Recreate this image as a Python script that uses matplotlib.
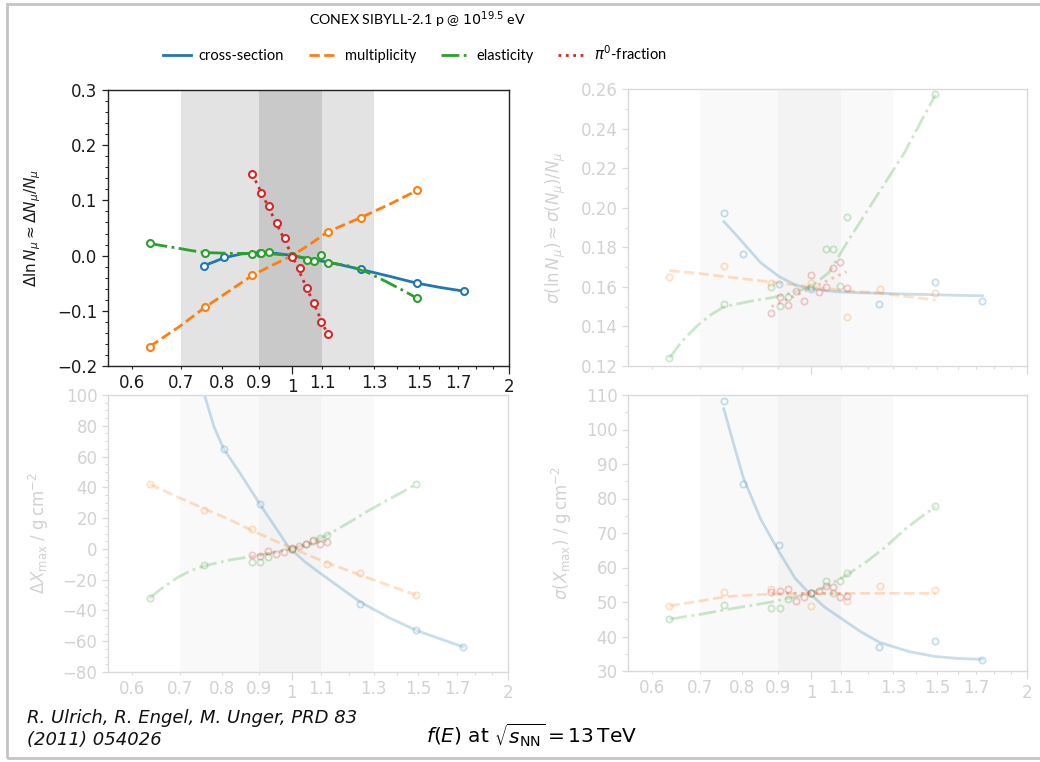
import numpy as np
import matplotlib
matplotlib.use("Agg")
import matplotlib.pyplot as plt
from matplotlib.lines import Line2D
from matplotlib.patches import Rectangle
from matplotlib.ticker import MultipleLocator

# ---------------- data ----------------
# f(E) values of the simulated points, per modified quantity
x_cs = [0.755, 0.804, 0.902, 1.0, 1.245, 1.49, 1.733]
x_mult = [0.634, 0.756, 0.88, 1.0, 1.12, 1.246, 1.49]
x_el = [0.634, 0.756, 0.88, 0.904, 0.928, 1.0, 1.048, 1.072, 1.096, 1.12, 1.49]
x_pi0 = [0.88, 0.904, 0.928, 0.952, 0.976, 1.0, 1.024, 1.048, 1.072, 1.096, 1.12]

# x positions of the fitted curves
fit_x_cs = [0.755, 0.78, 0.804, 0.85, 0.902, 0.95, 0.99, 1.044, 1.1, 1.17, 1.245, 1.37, 1.49, 1.61, 1.733]
fit_x_mult = [0.634, 0.7, 0.756, 0.82, 0.88, 0.94, 1.0, 1.06, 1.12, 1.246, 1.37, 1.49]
fit_x_el = [0.634, 0.66, 0.694, 0.725, 0.756, 0.824, 0.88, 0.94, 1.0, 1.06, 1.12, 1.2, 1.27, 1.35, 1.42, 1.49]
fit_x_pi0 = [0.88, 1.0, 1.12]

# panel: Delta ln N_mu
nmu_cs = [-0.018, -0.003, 0.004, 0.0, -0.0247, -0.050, -0.0645]
nmu_mult = [-0.165, -0.094, -0.035, 0.0, 0.0435, 0.0677, 0.1185]
nmu_el = [0.0224, 0.0043, 0.003, 0.0055, 0.0067, 0.0, -0.0078, -0.0096, 0.0007, -0.0138, -0.077]
nmu_pi0 = [0.1474, 0.114, 0.090, 0.0587, 0.031, -0.003, -0.0223, -0.058, -0.086, -0.1207, -0.142]
nmu_cs_fit = [-0.018, -0.011, -0.004, 0.003, 0.005, 0.004, 0.001, -0.005, -0.010, -0.017, -0.025, -0.038, -0.050, -0.058, -0.0645]
nmu_mult_fit = [-0.165, -0.127, -0.094, -0.063, -0.036, -0.017, 0.0, 0.021, 0.043, 0.069, 0.094, 0.118]
nmu_el_fit = [0.022, 0.018, 0.0135, 0.009, 0.0055, 0.004, 0.004, 0.003, 0.0, -0.006, -0.012, -0.019, -0.030, -0.047, -0.062, -0.077]
nmu_pi0_fit = [0.148, 0.0, -0.143]

# panel: sigma(ln N_mu)
snmu_cs = [0.1973, 0.1767, 0.1614, 0.159, 0.1511, 0.1626, 0.1528]
snmu_mult = [0.1652, 0.1703, 0.1622, 0.1618, 0.1446, 0.1588, 0.1568]
snmu_el = [0.1242, 0.1514, 0.1598, 0.1504, 0.155, 0.160, 0.1792, 0.1792, 0.1605, 0.1951, 0.2576]
snmu_pi0 = [0.147, 0.1548, 0.151, 0.158, 0.1529, 0.1662, 0.1576, 0.160, 0.1694, 0.1725, 0.1595]
snmu_cs_fit = [0.193, 0.1875, 0.1821, 0.1722, 0.1652, 0.161, 0.1592, 0.1581, 0.1574, 0.157, 0.1568, 0.1563, 0.156, 0.1557, 0.1555]
snmu_mult_fit = [0.1682, 0.1667, 0.1652, 0.1637, 0.1624, 0.1611, 0.160, 0.159, 0.158, 0.1568, 0.155, 0.1534]
snmu_el_fit = [0.124, 0.1325, 0.1405, 0.146, 0.150, 0.1528, 0.1545, 0.157, 0.160, 0.1675, 0.182, 0.199, 0.213, 0.228, 0.243, 0.257]
snmu_pi0_fit = [0.150, 0.1593, 0.1677]

# panel: Delta X_max [g/cm2]
dx_cs = [118.0, 65.1, 29.4, 0.0, -35.5, -52.9, -63.7]
dx_mult = [41.9, 25.2, 12.8, 0.0, -9.5, -15.6, -29.7]
dx_el = [-31.9, -10.6, -8.4, -8.7, -5.0, 0.0, 3.0, 5.0, 7.2, 9.3, 41.9]
dx_pi0 = [-4.1, -4.5, -1.3, -3.4, -1.9, 0.7, 2.0, 3.1, 5.7, 3.5, 4.6]
dx_cs_fit = [101, 79, 65.1, 48.2, 29.4, 13.7, 1.2, -8.5, -16.4, -25.4, -34.5, -45, -52.9, -58.5, -63.7]
dx_mult_fit = [42, 33, 26, 19, 12, 6, 0.5, -4.5, -9, -17, -24, -30]
dx_el_fit = [-32, -25.5, -18.5, -14, -11, -7, -5, -2.5, 0, 4, 9, 17, 24, 31, 36.5, 42]
dx_pi0_fit = [-5, 0, 5.5]

# panel: sigma(X_max) [g/cm2]
sx_cs = [108.2, 84.1, 66.6, 52.5, 37.0, 38.8, 33.1]
sx_mult = [48.8, 52.8, 53.7, 48.9, 50.4, 54.7, 53.4]
sx_el = [45.0, 49.1, 48.4, 48.4, 50.8, 52.5, 56.1, 52.7, 56.1, 58.5, 77.9]
sx_pi0 = [52.8, 53.3, 53.8, 50.2, 51.4, 52.5, 53.3, 54.6, 54.3, 51.4, 51.7]
sx_cs_fit = [106, 95.5, 86, 74, 64.5, 56.8, 52.9, 48.5, 45.3, 41.5, 38.3, 35.6, 34.2, 33.6, 33.4]
sx_mult_fit = [48.9, 50.3, 51.5, 52, 52.3, 52.4, 52.5, 52.5, 52.5, 52.5, 52.5, 52.5]
sx_el_fit = [45, 45.6, 46.3, 47, 47.7, 49, 50, 51.3, 52.5, 55, 57.8, 62, 66, 71, 74.5, 77.6]
sx_pi0_fit = [52.6, 52.5, 52.4]

band_wide = (0.7, 1.3)
band_narrow = (0.9, 1.1)

major_ticks = [1, 2]
major_labels = ["1", "2"]
minor_ticks = [0.6, 0.7, 0.8, 0.9, 1.1, 1.2, 1.3, 1.4, 1.5, 1.6, 1.7, 1.8, 1.9]
minor_labels = ["0.6", "0.7", "0.8", "0.9", "1.1", "", "1.3", "", "1.5", "", "1.7", "", ""]

series_names = ["cross-section", "multiplicity", "elasticity", r"$\pi^0$-fraction"]
series_colors = ["#1f77b4", "#ff7f0e", "#2ca02c", "#d62728"]
series_styles = ["-", "--", "-.", ":"]

# ---------------- figure ----------------
W, H = 1040, 762
fig = plt.figure(figsize=(W / 100, H / 100), dpi=100)
fig.patch.set_facecolor("white")


def rect(l, t, r, b):
    return [l / W, 1 - b / H, (r - l) / W, (b - t) / H]


ax_tl = fig.add_axes(rect(108, 90, 509, 366), zorder=5)
ax_tr = fig.add_axes(rect(628, 89, 1027, 366))
ax_bl = fig.add_axes(rect(108, 395, 508, 672))
ax_br = fig.add_axes(rect(628, 395, 1027, 671))

FADE = 0.24
FADE_TXT = "#d2d2d2"
FADE_SPINE = "#dadada"


def draw_panel(ax, marks, fits, ylim, ymaj, ymin, ylabel, label_x, faded, show_xlabels):
    a = FADE if faded else 1.0
    ms = 4.5 if faded else 5
    mew = 1.3 if faded else 1.5
    ax.set_xscale("log")
    ax.set_xlim(0.555, 2.0)
    ax.set_ylim(*ylim)
    if faded:
        ax.axvspan(*band_wide, color="#f9f9f9", lw=0, zorder=0)
        ax.axvspan(*band_narrow, color="#f3f3f3", lw=0, zorder=0)
    else:
        ax.axvspan(*band_wide, color="#e3e3e3", lw=0, zorder=0)
        ax.axvspan(*band_narrow, color="#c9c9c9", lw=0, zorder=0)
    xs = [x_cs, x_mult, x_el, x_pi0]
    fxs = [fit_x_cs, fit_x_mult, fit_x_el, fit_x_pi0]
    for i in range(4):
        ax.plot(fxs[i], fits[i], color=series_colors[i], ls=series_styles[i],
                lw=2.0, alpha=a, zorder=2 + i, clip_on=True)
        ax.plot(xs[i], marks[i], ls="none", marker="o", ms=ms, mew=mew,
                mfc="white", mec=series_colors[i], alpha=a, zorder=2.5 + i)
    ax.set_xticks(major_ticks, labels=major_labels if show_xlabels else ["", ""])
    ax.set_xticks(minor_ticks, labels=minor_labels if show_xlabels else [""] * len(minor_ticks), minor=True)
    ax.yaxis.set_major_locator(MultipleLocator(ymaj))
    ax.yaxis.set_minor_locator(MultipleLocator(ymin))
    tcol = FADE_TXT if faded else "#1a1a1a"
    scol = FADE_SPINE if faded else "#222222"
    ax.tick_params(axis="both", which="both", labelsize=12, colors=scol, labelcolor=tcol)
    ax.tick_params(axis="x", which="major", length=5.5, width=0.9)
    ax.tick_params(axis="x", which="minor", length=2.5, width=0.8)
    ax.tick_params(axis="y", which="major", length=4, width=0.9)
    ax.tick_params(axis="y", which="minor", length=2.2, width=0.7)
    for s in ax.spines.values():
        s.set_color(scol)
        s.set_linewidth(1.0)
    ax.set_ylabel(ylabel, fontsize=12 if faded else 11, color=tcol)
    ax.yaxis.set_label_coords(label_x, 0.5)
    ax.set_facecolor("white")


draw_panel(ax_tr, [snmu_cs, snmu_mult, snmu_el, snmu_pi0],
           [snmu_cs_fit, snmu_mult_fit, snmu_el_fit, snmu_pi0_fit],
           (0.12, 0.26), 0.02, 0.01,
           r"$\sigma(\ln N_\mu) \approx \sigma(N_\mu)/N_\mu$", -0.150, True, False)
draw_panel(ax_bl, [dx_cs, dx_mult, dx_el, dx_pi0],
           [dx_cs_fit, dx_mult_fit, dx_el_fit, dx_pi0_fit],
           (-80, 100), 20, 5,
           r"$\Delta X_\mathrm{max}$ / g$\,$cm$^{-2}$", -0.1425, True, True)
draw_panel(ax_br, [sx_cs, sx_mult, sx_el, sx_pi0],
           [sx_cs_fit, sx_mult_fit, sx_el_fit, sx_pi0_fit],
           (30, 110), 10, 5,
           r"$\sigma(X_\mathrm{max})$ / g$\,$cm$^{-2}$", -0.135, True, True)
draw_panel(ax_tl, [nmu_cs, nmu_mult, nmu_el, nmu_pi0],
           [nmu_cs_fit, nmu_mult_fit, nmu_el_fit, nmu_pi0_fit],
           (-0.2, 0.3), 0.1, 0.02,
           r"$\Delta \ln N_\mu \approx \Delta N_\mu/N_\mu$", -0.162, False, True)

# title and legend
narrow = ["Lato", "DejaVu Sans"]
fig.text(418 / W, 1 - 20 / H, r"CONEX SIBYLL-2.1 p @ $10^{19.5}$ eV", ha="center", va="center",
         fontsize=10.3, family=narrow)
handles = [Line2D([], [], color=c, ls=s, lw=2) for c, s in zip(series_colors, series_styles)]
fig.legend(handles, series_names, loc="center", bbox_to_anchor=(415 / W, 1 - 54 / H), ncol=4,
           frameon=False, prop={"family": narrow, "size": 10.5}, handlelength=1.9,
           columnspacing=1.7, handletextpad=0.55)

# footer
foot = ["DejaVu Sans"]
fig.text(27 / W, 1 - 718 / H, "R. Ulrich, R. Engel, M. Unger, PRD 83", ha="left", va="center",
         fontsize=13, style="italic", family=foot, color="#111111")
fig.text(27 / W, 1 - 740 / H, "(2011) 054026", ha="left", va="center",
         fontsize=13, style="italic", family=foot, color="#111111")
fig.text(532 / W, 1 - 735 / H, r"$f(E)$ at $\sqrt{s_\mathrm{NN}} = 13\,\mathrm{TeV}$",
         ha="center", va="center", fontsize=14.5)

# card border
fig.patches.append(Rectangle((7 / W, 1 - 758 / H), 1.2, (758 - 4) / H, transform=fig.transFigure,
                             fill=False, edgecolor="#c4c4c4", lw=2, zorder=-1))

fig.savefig("out.png", dpi=100, facecolor="white")
